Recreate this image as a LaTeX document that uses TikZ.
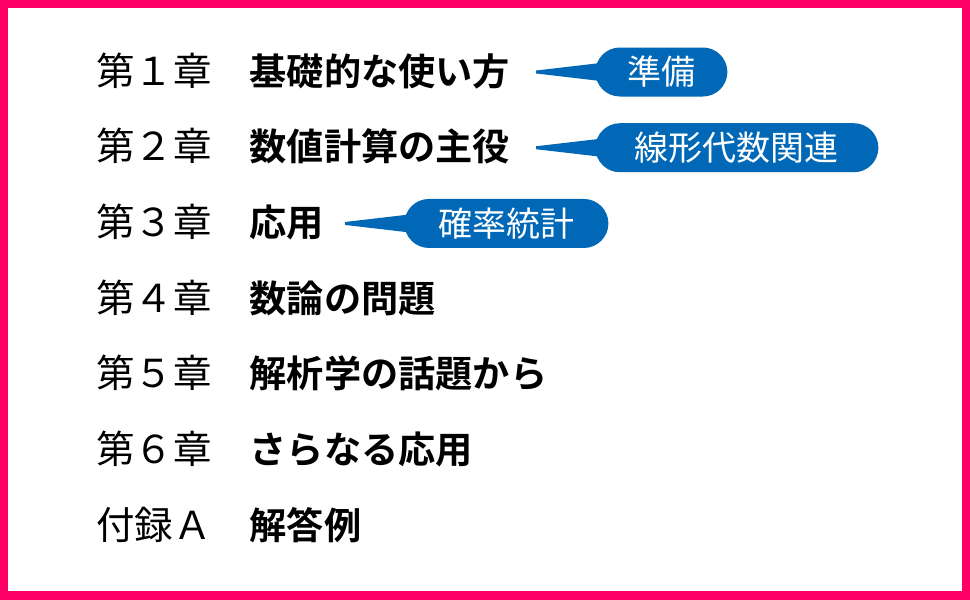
\documentclass[tikz,border=0pt]{standalone}
\usepackage{fontspec}
\setmainfont{Noto Sans CJK JP}[BoldFont={Noto Sans CJK JP Bold}]
\usetikzlibrary{positioning,calc}
\definecolor{framepink}{HTML}{FF0066}
\definecolor{tagblue}{HTML}{0068B7}

\begin{document}
\begin{tikzpicture}[
				chap/.style={rectangle, inner sep=0pt, text height=32pt, text depth=6pt, font=\fontsize{38.5}{40}\selectfont},
				title/.style={chap, font=\fontsize{37.2}{40}\selectfont\bfseries},
				tag/.style={rectangle, rounded corners=24.5pt, fill=tagblue, text=white, minimum height=49pt, inner sep=0pt, font=\fontsize{34}{36}\selectfont},
				node distance=37.33pt
			]
			\useasboundingbox (0,0) rectangle (970pt,-600pt);
			\fill[framepink] (0,0) rectangle (970pt,-600pt);
			\fill[white] (8pt,-8pt) rectangle (962pt,-591pt);
			\node[chap, anchor=west] (chone) at (96pt,-72pt) {第１章};
			\node[chap] (chtwo) [below=of chone] {第２章};
			\node[chap] (chthree) [below=of chtwo] {第３章};
			\node[chap] (chfour) [below=of chthree] {第４章};
			\node[chap] (chfive) [below=of chfour] {第５章};
			\node[chap] (chsix) [below=of chfive] {第６章};
			\node[chap] (appa) [below=of chsix] {付録Ａ};
			\node[title] (tone) [right=37.5pt of chone] {基礎的な使い方};
			\node[title] (ttwo) [right=37.5pt of chtwo] {数値計算の主役};
			\node[title] (tthree) [right=37.5pt of chthree] {応用};
			\node[title] (tfour) [right=37.5pt of chfour] {数論の問題};
			\node[title] (tfive) [right=37.5pt of chfive] {解析学の話題から};
			\node[title] (tsix) [right=37.5pt of chsix] {さらなる応用};
			\node[title] (tappa) [right=37.5pt of appa] {解答例};
			\coordinate[right=26pt of tone] (tipone);
			\coordinate[right=26pt of ttwo] (tiptwo);
			\coordinate[right=21pt of tthree] (tipthree);
			\node[tag, minimum width=132pt] (prep) [right=59pt of tipone, anchor=west] {準備};
			\node[tag, minimum width=283pt] (linalg) [right=59pt of tiptwo, anchor=west] {線形代数関連};
			\node[tag, minimum width=204pt] (probstat) [right=59pt of tipthree, anchor=west] {確率統計};
			\begin{scope}[tagblue]
			\fill ($(tipone)+(0,1.5pt)$) -- ($(prep.west)+(14pt,10pt)$) -- ($(prep.west)+(14pt,-10pt)$) -- ($(tipone)+(0,-1.5pt)$) -- cycle;
			\fill ($(tiptwo)+(0,1.5pt)$) -- ($(linalg.west)+(14pt,10pt)$) -- ($(linalg.west)+(14pt,-10pt)$) -- ($(tiptwo)+(0,-1.5pt)$) -- cycle;
			\fill ($(tipthree)+(0,1.5pt)$) -- ($(probstat.west)+(14pt,10pt)$) -- ($(probstat.west)+(14pt,-10pt)$) -- ($(tipthree)+(0,-1.5pt)$) -- cycle;
			\end{scope}
			\end{tikzpicture}
\end{document}
